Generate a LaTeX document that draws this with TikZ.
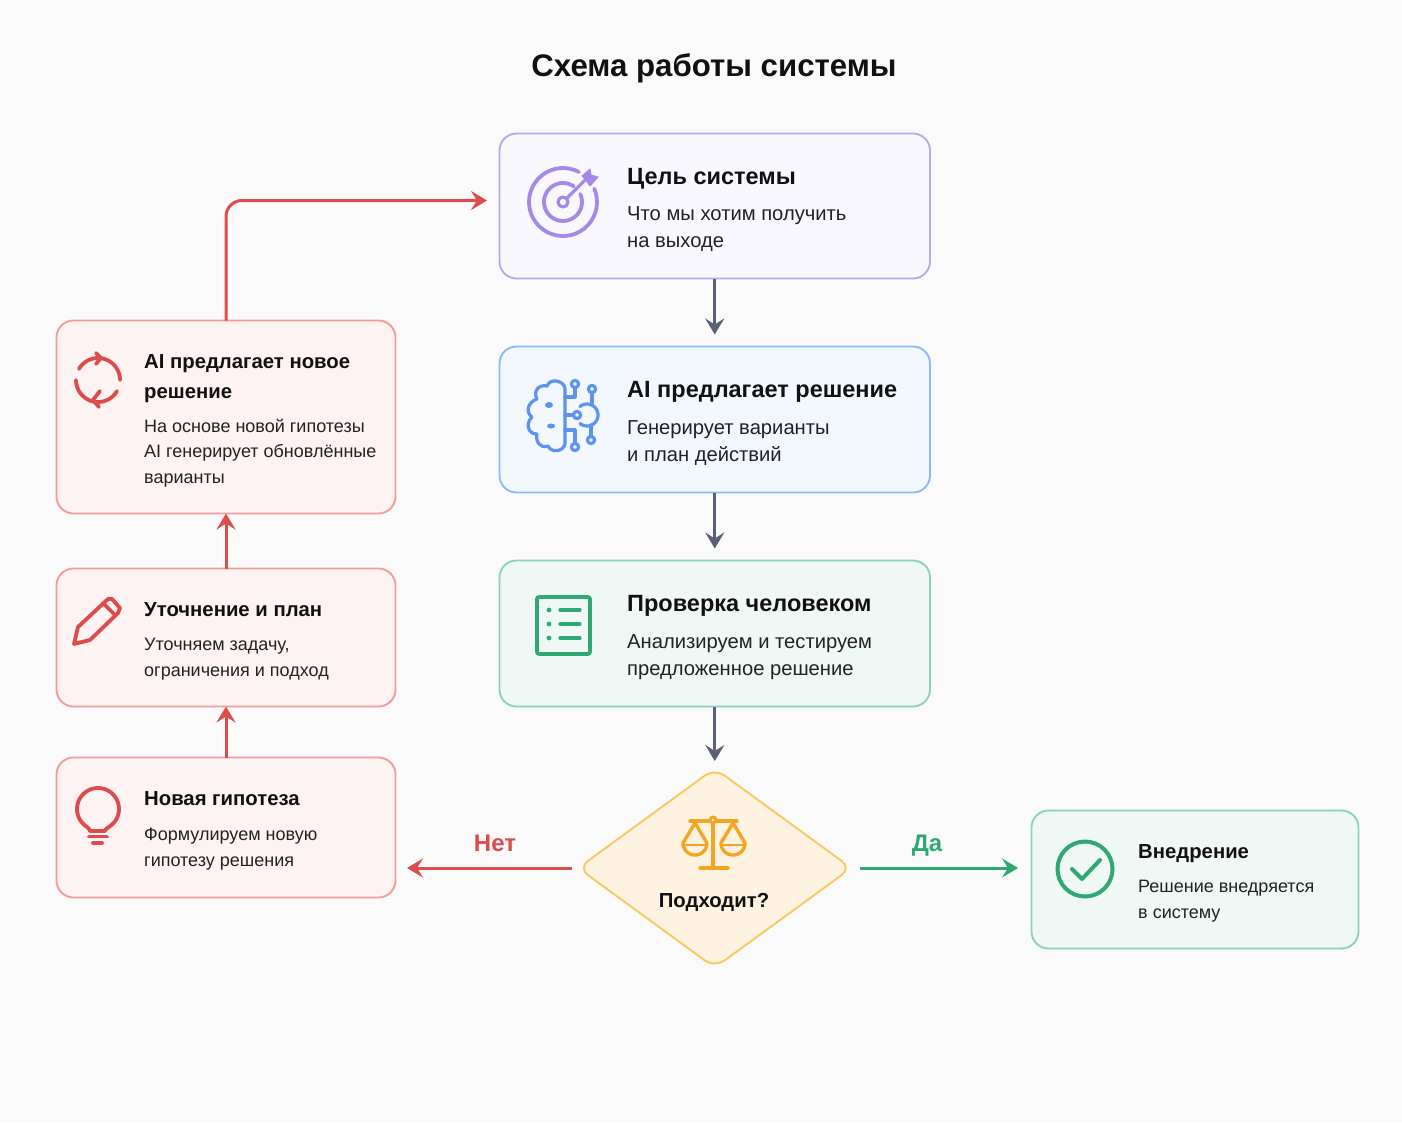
\documentclass[tikz,border=0pt]{standalone}
\usepackage{fontspec}
\setmainfont{Liberation Sans}
\usetikzlibrary{shapes.geometric,arrows.meta}
\definecolor{bgc}{HTML}{FAFAFA}
\definecolor{purS}{HTML}{B9A8EE}\definecolor{purF}{HTML}{FAF8FF}\definecolor{purI}{HTML}{A589E8}
\definecolor{bluS}{HTML}{8FB9F6}\definecolor{bluF}{HTML}{F3F7FE}\definecolor{bluI}{HTML}{5B93EE}
\definecolor{grnS}{HTML}{8ED3B6}\definecolor{grnF}{HTML}{F0F8F5}\definecolor{grnI}{HTML}{2FA873}
\definecolor{redS}{HTML}{F49C9C}\definecolor{redF}{HTML}{FDF3F3}\definecolor{redI}{HTML}{DE4B4B}
\definecolor{orgS}{HTML}{FBC85F}\definecolor{orgF}{HTML}{FEF3E1}\definecolor{orgI}{HTML}{F5A524}
\definecolor{gryA}{HTML}{5A6075}\definecolor{txt}{HTML}{111111}\definecolor{txtb}{HTML}{222222}
\newcommand\fs[1]{\fontsize{#1}{#1}\selectfont}
\newcommand\vvb[3]{\vtop{\baselineskip=#1pt \lineskiplimit=-20pt \hbox{#2}\hbox{#3}}}
\newcommand\vvc[4]{\vtop{\baselineskip=#1pt \lineskiplimit=-20pt \hbox{#2}\hbox{#3}\hbox{#4}}}
\newcommand\icarc[6]{\draw[#1] plot[domain=#5:#6,samples=40] ({#2+#4*cos(\x)},{#3-#4*sin(\x)});}
\tikzset{
 x=1pt,y=-1pt,
 card/.style={draw,rounded corners=17pt,line width=1.9pt,inner sep=0pt,outer sep=0pt,anchor=north west},
 head/.style={anchor=base west,inner sep=0pt,text=txt,font=\fs{23.5}\bfseries},
 body/.style={anchor=base west,inner sep=0pt,text=txtb,font=\fs{20.2}},
 lhead/.style={anchor=base west,inner sep=0pt,text=txt,font=\fs{20.3}\bfseries},
 lbody/.style={anchor=base west,inner sep=0pt,text=txtb,font=\fs{18}},
 icon/.style={line width=3.8pt,line cap=round,line join=round},
 thin icon/.style={line width=3.2pt,line cap=round,line join=round},
 arr/.style={line width=3pt,-{Stealth[length=16pt,width=19pt,inset=6pt]}},
 grayarr/.style={arr,draw=gryA,shorten >=12pt},
 redarr/.style={arr,draw=redI},
 grnarr/.style={arr,draw=grnI},
}
\begin{document}
\begin{tikzpicture}
\useasboundingbox (0,0) rectangle (1402,1122);
\fill[bgc] (0,0) rectangle (1402,1122);
\node[anchor=base,inner sep=0pt,text=txt,font=\fs{31.2}\bfseries] (title) at (714,76.5) {Схема работы системы};

% cards
\node[card,draw=purS,fill=purF,minimum width=430.5pt,minimum height=145pt] (goal) at (499.5,133.5) {};
\node[card,draw=bluS,fill=bluF,minimum width=430.5pt,minimum height=146pt] (ai) at (499.5,346.5) {};
\node[card,draw=grnS,fill=grnF,minimum width=430.5pt,minimum height=146pt] (check) at (499.5,560.5) {};
\node[card,draw=grnS,fill=grnF,minimum width=327pt,minimum height=138pt] (impl) at (1031.5,810.5) {};
\node[card,draw=redS,fill=redF,minimum width=339pt,minimum height=193pt] (newai) at (56.5,320.5) {};
\node[card,draw=redS,fill=redF,minimum width=339pt,minimum height=138pt] (refine) at (56.5,568.5) {};
\node[card,draw=redS,fill=redF,minimum width=339pt,minimum height=140pt] (hyp) at (56.5,757.5) {};
\node[diamond,aspect=1.36,draw=orgS,fill=orgF,line width=1.9pt,rounded corners=12pt,inner sep=0pt,minimum width=274pt,minimum height=200pt] (dec) at (714.75,868) {};

% card text
\node[head] (goalH) at (627,184) {Цель системы};
\node[body] (goalB) at (627,220) {\vvb{27.5}{Что мы хотим получить}{на выходе}};
\node[head] (aiH) at (627,397) {AI предлагает решение};
\node[body] (aiB) at (627,434) {\vvb{27.5}{Генерирует варианты}{и план действий}};
\node[head] (checkH) at (627,611) {Проверка человеком};
\node[body] (checkB) at (627,648) {\vvb{27.5}{Анализируем и тестируем}{предложенное решение}};
\node[lhead] (implH) at (1138,858) {Внедрение};
\node[lbody] (implB) at (1138,892) {\vvb{26}{Решение внедряется}{в систему}};
\node[lhead] (newaiH) at (144,368) {\vvb{30}{AI предлагает новое}{решение}};
\node[lbody] (newaiB) at (144,432) {\vvc{25.5}{На основе новой гипотезы}{AI генерирует обновлённые}{варианты}};
\node[lhead] (refineH) at (144,616) {Уточнение и план};
\node[lbody] (refineB) at (144,650) {\vvb{26}{Уточняем задачу,}{ограничения и подход}};
\node[lhead] (hypH) at (144,805) {Новая гипотеза};
\node[lbody] (hypB) at (144,840) {\vvb{26}{Формулируем новую}{гипотезу решения}};
\node[anchor=base,inner sep=0pt,text=txt,font=\fs{20.3}\bfseries] (decT) at (714,907) {Подходит?};

% connectors
\coordinate (loopEnd) at (487,200.5);
\coordinate (noEnd) at (407,868);
\coordinate (yesEnd) at (1018,868);
\draw[grayarr] (goal.south) -- (ai.north);
\draw[grayarr] (ai.south) -- (check.north);
\draw[grayarr,shorten >=6pt] (check.south) -- (dec.north);
\draw[redarr] (hyp.north) -- (refine.south);
\draw[redarr] (refine.north) -- (newai.south);
\draw[redarr,rounded corners=16pt] (newai.north) |- (loopEnd);
\draw[redarr,shorten <=5pt] (dec.west) -- (noEnd);
\draw[grnarr,shorten <=7pt] (dec.east) -- (yesEnd);
\node[anchor=base,inner sep=0pt,text=redI,font=\fs{24}\bfseries] (noL) at (495,851) {Нет};
\node[anchor=base,inner sep=0pt,text=grnI,font=\fs{24}\bfseries] (yesL) at (927,851) {Да};

% target icon
\icarc{icon,draw=purI}{563}{202}{34}{62}{383}
\icarc{icon,draw=purI}{563}{202}{19}{55}{385}
\draw[icon,draw=purI,line width=3.2pt] (563,202) circle[radius=5pt];
\draw[icon,draw=purI,line width=3.2pt] (567,198) -- (587,178);
\fill[purI,line join=round,draw=purI,line width=1pt] (582,176) -- (590,169) -- (591,175) -- (598,177) -- (590,186) -- (586,180) -- cycle;

% brain icon
\draw[thin icon,draw=bluI] (565,388) .. controls (563,380) and (550,378) .. (547,386)
  .. controls (538,384) and (533,392) .. (537,399)
  .. controls (528,402) and (525,412) .. (532,417)
  .. controls (525,424) and (528,434) .. (537,434)
  .. controls (535,442) and (541,449) .. (548,446)
  .. controls (551,453) and (563,452) .. (565,444) -- (565,388);
\fill[bluI] (549,405) circle[x radius=4pt,y radius=3pt];
\fill[bluI] (551,426) circle[x radius=4pt,y radius=2.5pt];
\draw[thin icon,draw=bluI] (565,397) -- (575,397) -- (575,388);
\draw[thin icon,draw=bluI] (565,415) -- (573,415);
\draw[thin icon,draw=bluI] (565,430) -- (575,430) -- (575,443);
\draw[thin icon,draw=bluI] (592,394) -- (592,405);
\draw[thin icon,draw=bluI] (591,425) -- (591,436);
\icarc{thin icon,draw=bluI}{587}{415}{11}{-130}{130}
\draw[thin icon,draw=bluI,fill=bluF] (575,384) circle[radius=3.6pt];
\draw[thin icon,draw=bluI,fill=bluF] (592,389) circle[radius=3.6pt];
\draw[thin icon,draw=bluI,fill=bluF] (577,415) circle[radius=3.6pt];
\draw[thin icon,draw=bluI,fill=bluF] (591,440) circle[radius=3.6pt];
\draw[thin icon,draw=bluI,fill=bluF] (575,447) circle[radius=3.6pt];

% checklist icon
\draw[line width=3.6pt,draw=grnI,rounded corners=2pt] (537,597) rectangle (590,654);
\foreach \yy in {610,624,638}{
  \fill[grnI] (549,\yy) circle[radius=2.4pt];
  \draw[icon,draw=grnI,line width=3.2pt] (560,\yy) -- (580,\yy);
}

% refresh icon
\icarc{icon,draw=redI}{98}{380}{22}{0}{150}
\icarc{icon,draw=redI}{98}{380}{22}{180}{330}
\draw[icon,draw=redI] (96,353) -- (101,358) -- (96,364);
\draw[icon,draw=redI] (100,391) -- (93,400) -- (99,407);

% pencil icon
\draw[icon,draw=redI] (74,644) -- (78,627) -- (108,599) -- (112,599) -- (120,608) -- (118,613) -- (90,640) -- cycle;
\draw[icon,draw=redI] (103,603) -- (115,615);

% bulb icon
\icarc{icon,draw=redI}{98}{809}{21}{-50}{230}
\draw[icon,draw=redI] (84.5,825) .. controls (88,828) and (90,829) .. (90,831) -- (105,831) .. controls (105,829) and (108,828) .. (111.5,825);
\draw[icon,draw=redI] (89,836.5) -- (107,836.5);
\draw[icon,draw=redI] (93,843) -- (102,843);

% scales icon
\draw[icon,draw=orgI,line width=3.4pt] (690,821) -- (709,821);
\draw[icon,draw=orgI,line width=3.4pt] (717,821) -- (737,821);
\draw[icon,draw=orgI,line width=3.4pt] (713,824) -- (713,868);
\draw[icon,draw=orgI,line width=3.4pt] (700,868) -- (728,868);
\draw[icon,draw=orgI,line width=3pt] (713,820) circle[radius=3pt];
\draw[icon,draw=orgI,line width=3.4pt] (683,843) -- (695,823) -- (707,843);
\icarc{icon,draw=orgI,line width=3.4pt}{695}{843}{12}{180}{360}
\draw[icon,draw=orgI,line width=2pt] (684,845) -- (706,845);
\draw[icon,draw=orgI,line width=3.4pt] (721,843) -- (733,823) -- (745,843);
\icarc{icon,draw=orgI,line width=3.4pt}{733}{843}{12}{180}{360}
\draw[icon,draw=orgI,line width=2pt] (722,845) -- (744,845);

% check icon
\draw[icon,draw=grnI,line width=4pt] (1085,869) circle[radius=27.5pt];
\draw[icon,draw=grnI,line width=4pt] (1072,869) -- (1082,879) -- (1100,860);
\end{tikzpicture}
\end{document}
